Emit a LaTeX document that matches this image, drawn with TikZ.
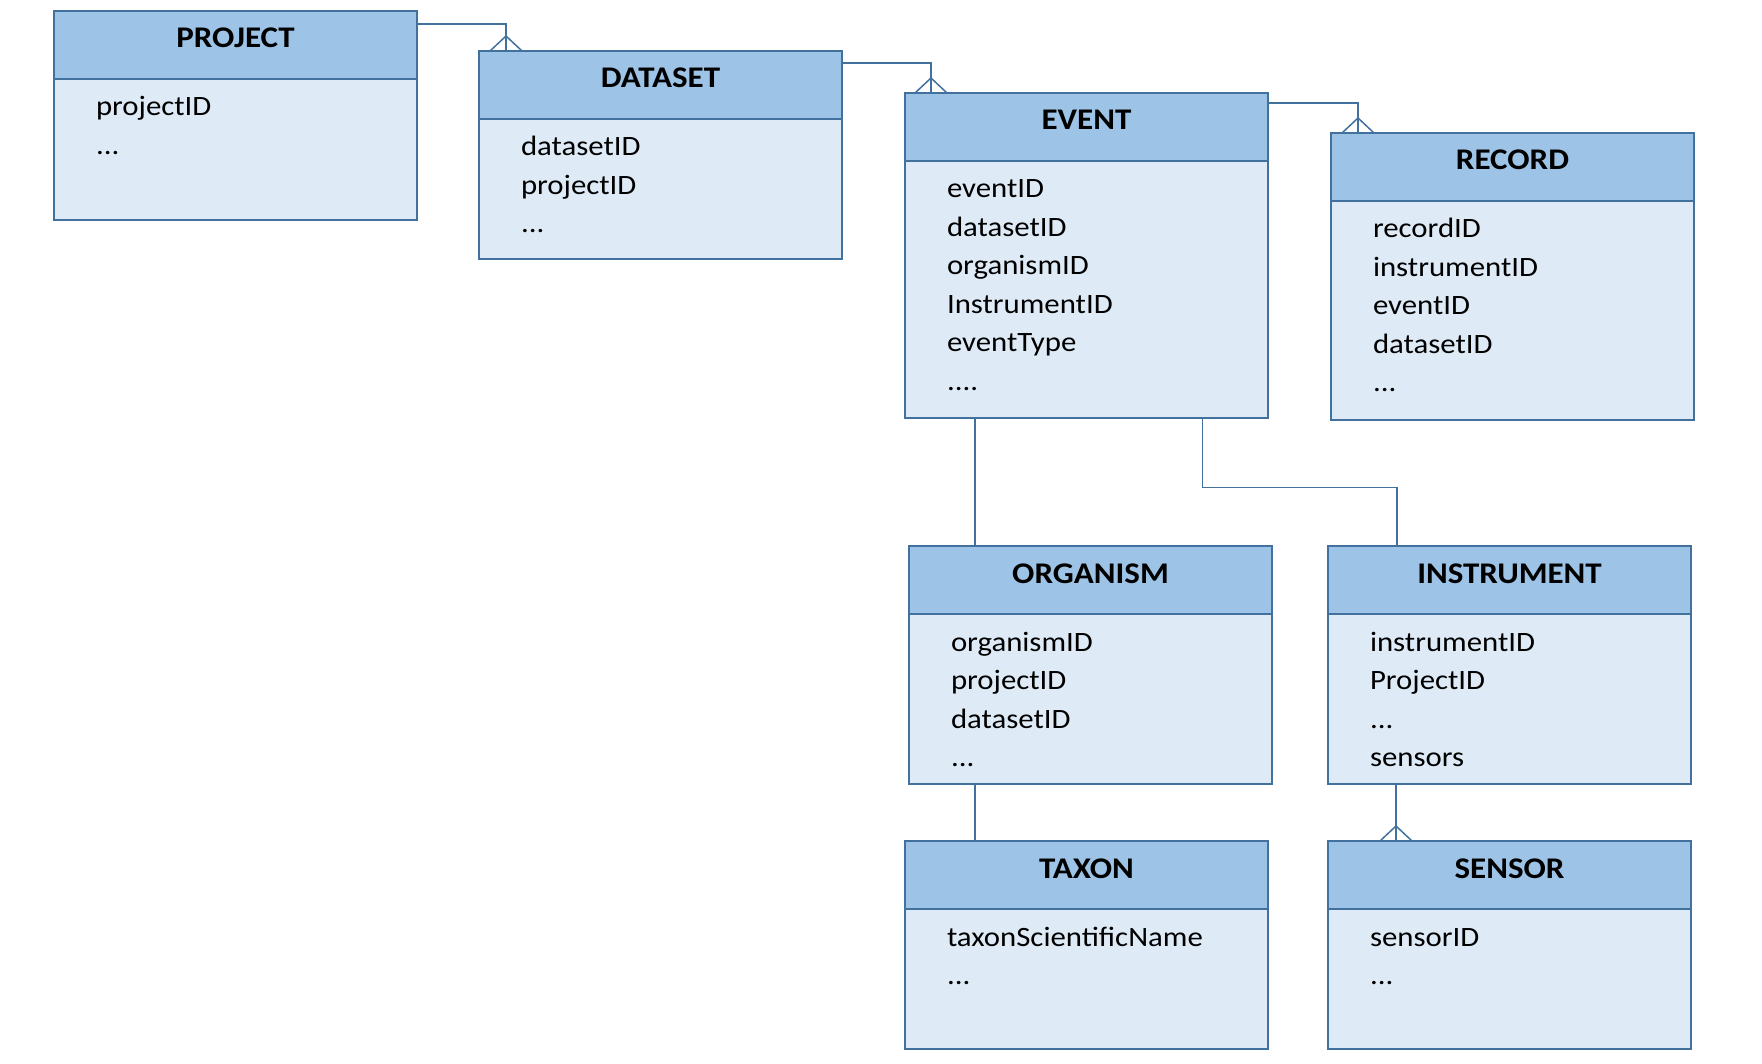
\documentclass[tikz,border=0pt]{standalone}
\usepackage{fontspec}
\setmainfont{Carlito}[FakeStretch=1.1]
\usetikzlibrary{positioning, calc}

\definecolor{ERhead}{HTML}{9DC3E6}
\definecolor{ERbody}{HTML}{DEEBF7}
\definecolor{ERline}{HTML}{41719C}

\begin{document}
\begin{tikzpicture}[
		x=0.5pt, y=-0.5pt,
		% Entity Styles
		head/.style={rectangle, draw=ERline, fill=ERhead, line width=1pt, minimum width=181.5pt, minimum height=34pt, inner sep=0pt, outer sep=0pt, anchor=north west, font=\bfseries\fontsize{15pt}{18pt}\selectfont, text height=9.5pt, text depth=6.5pt},
		fields/.style={rectangle, draw=ERline, fill=ERbody, line width=1pt, minimum width=181.5pt, inner xsep=21pt, inner ysep=0pt, outer sep=0pt, text width=139.5pt, align=left, font=\fontsize{14pt}{19.25pt}\selectfont, text height=18.5pt},
		% Edge Styles
		link/.style={draw=ERline, line width=0.75pt}
		]
		\useasboundingbox (0,0) rectangle (1762,1064);
		
		% --- TOP ROW ---
		\node[head] (project) at (54,11) {PROJECT};
		\node[fields, below=0pt of project, text depth=52pt] (project_fields) {projectID\\...};
		
		\node[head] (dataset) at (479,51) {DATASET};
		\node[fields, below=0pt of dataset, text depth=51.5pt] (dataset_fields) {datasetID\\projectID\\...};
		
		\node[head] (event) at (905,93) {EVENT};
		\node[fields, below=0pt of event, text depth=109.75pt] (event_fields) {eventID\\datasetID\\organismID\\InstrumentID\\eventType\\....};
		
		\node[head] (record) at (1331,133) {RECORD};
		\node[fields, below=0pt of record, text depth=91pt] (record_fields) {recordID\\instrumentID\\eventID\\datasetID\\...};
		
		% --- MIDDLE ROW ---
		\node[head] (organism) at (909,546) {ORGANISM};
		\node[fields, below=0pt of organism, text depth=66.5pt] (organism_fields) {organismID\\projectID\\datasetID\\...};
		
		\node[head] (instrument) at (1328,546) {INSTRUMENT};
		\node[fields, below=0pt of instrument, text depth=66.5pt] (instrument_fields) {instrumentID\\ProjectID\\...\\sensors};
		
		% --- BOTTOM ROW ---
		\node[head] (taxon) at (905,841) {TAXON};
		\node[fields, below=0pt of taxon, text depth=51.5pt] (taxon_fields) {taxonScientificName\\...};
		
		\node[head] (sensor) at (1328,841) {SENSOR};
		\node[fields, below=0pt of sensor, text depth=51.5pt] (sensor_fields) {sensorID\\...};
		
		% ================= RELATIONS =================
		
		% one-to-many (crow's foot at the many side)
		\draw[link] ([yshift=-6.5pt]project.north east) -| ([xshift=13.5pt]dataset.north west) coordinate (dataset_in);
		\draw[link] ([yshift=-6pt]dataset.north east) -| ([xshift=13pt]event.north west) coordinate (event_in);
		\draw[link] ([yshift=-5pt]event.north east) -| ([xshift=13.5pt]record.north west) coordinate (record_in);
		\draw[link] ([xshift=34pt]instrument_fields.south west) coordinate (instrument_out) -- (instrument_out |- sensor.north) coordinate (sensor_in);
		
		% crow's feet
		\draw[link] ([xshift=-8pt]dataset_in) -- ([yshift=7.5pt]dataset_in) -- ([xshift=8pt]dataset_in);
		\draw[link] ([xshift=-8pt]event_in) -- ([yshift=7.5pt]event_in) -- ([xshift=8pt]event_in);
		\draw[link] ([xshift=-8pt]record_in) -- ([yshift=7.5pt]record_in) -- ([xshift=8pt]record_in);
		\draw[link] ([xshift=-8pt]sensor_in) -- ([yshift=7.5pt]sensor_in) -- ([xshift=8pt]sensor_in);
		
		% one-to-one
		\draw[link] ([xshift=35pt]event_fields.south west) coordinate (event_out) -- (event_out |- organism.north);
		\draw[link] ([xshift=148.75pt]event_fields.south west) -- ++(0,70) -| ([xshift=34.5pt]instrument.north west);
		\draw[link] ([xshift=33pt]organism_fields.south west) coordinate (organism_out) -- (organism_out |- taxon.north);
		
	\end{tikzpicture}
\end{document}
